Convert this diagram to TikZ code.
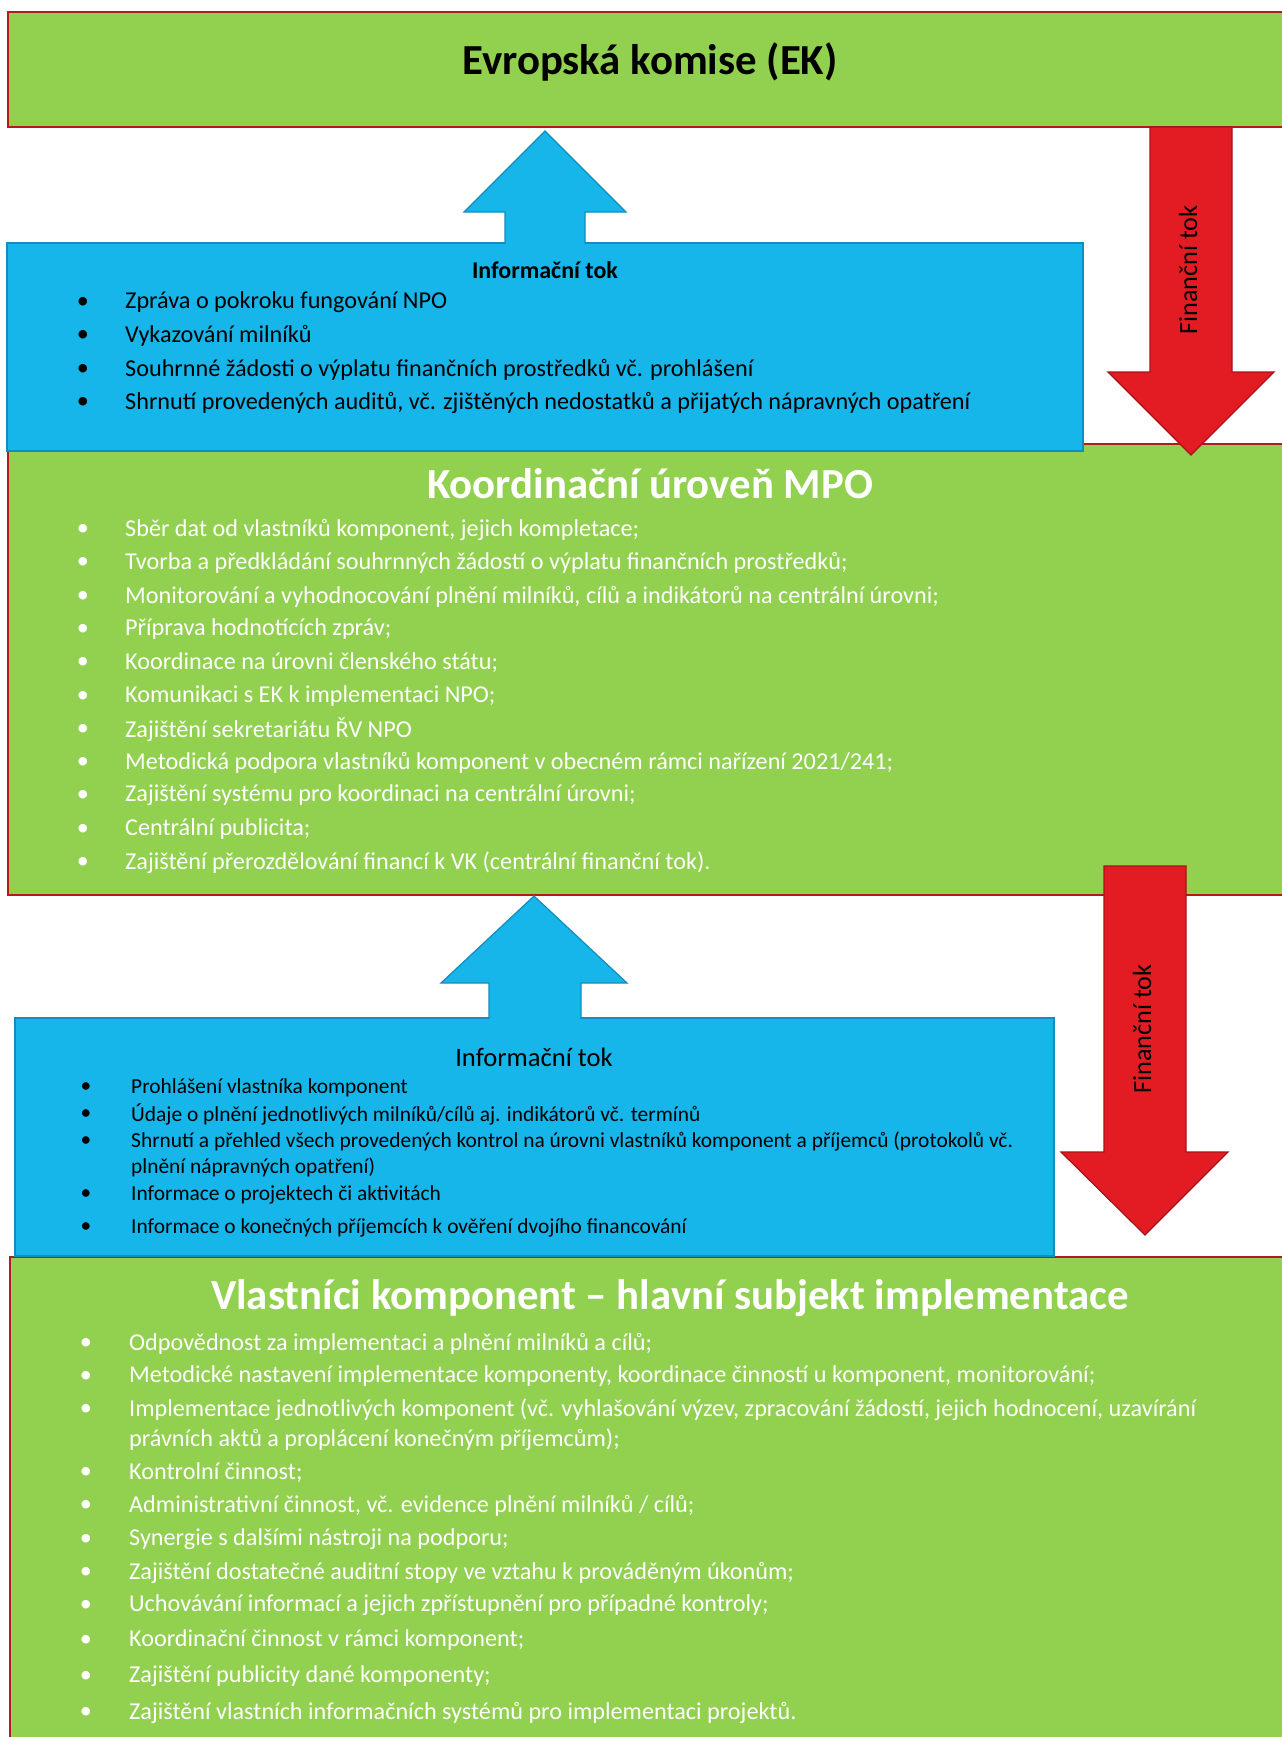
\documentclass[tikz,border=0pt]{standalone}
\usepackage{fontspec}
\setmainfont{Carlito}
\usetikzlibrary{positioning}

\definecolor{boxgreen}{RGB}{146,208,80}
\definecolor{boxedge}{RGB}{180,25,30}
\definecolor{boxblue}{RGB}{22,181,234}
\definecolor{blueedge}{RGB}{20,140,190}
\definecolor{arrred}{RGB}{227,28,36}
\definecolor{arredge}{RGB}{165,20,25}

\begin{document}
\begin{tikzpicture}[x=1pt,y=-1pt,inner sep=0]
  \tikzstyle{greenbox}=[draw=boxedge,fill=boxgreen,line width=1.5pt]
  \tikzstyle{bluebox}=[draw=blueedge,fill=boxblue,line width=1.5pt]
  \tikzstyle{finarrow}=[draw=arredge,fill=arrred,line width=1.2pt,line join=miter]
  \tikzstyle{infoline}=[draw=blueedge,line width=1.2pt]
  \tikzstyle{big}=[font=\fontsize{24.2}{29}\selectfont,yshift=-2.5pt]
  \tikzstyle{small}=[font=\fontsize{21.4}{25}\selectfont,yshift=-1.5pt]
  \tikzstyle{title}=[font=\bfseries\fontsize{42.8}{48}\selectfont]
  \tikzstyle{fin}=[font=\fontsize{26.2}{30}\selectfont,rotate=90]

  \useasboundingbox (0,0) rectangle (1282,1737);
  \fill[white] (0,0) rectangle (1282,1737);

  % boxes
  \path[greenbox] (8,12) rectangle (1300,127);
  \path[greenbox] (8,444) rectangle (1300,895);
  \path[greenbox] (10,1257) rectangle (1300,1760);
  \path[bluebox] (7,243) rectangle (1083,451);
  \path[bluebox] (15,1018) rectangle (1054,1256);

  % information arrows
  \fill[boxblue] (505,245) -- (505,212) -- (464,212) -- (545,131) -- (626,212) -- (585,212) -- (585,245) -- cycle;
  \draw[infoline] (505,244) -- (505,212) -- (464,212) -- (545,131) -- (626,212) -- (585,212) -- (585,244);
  \fill[boxblue] (489,1020) -- (489,983) -- (441,983) -- (534,896) -- (627,983) -- (581,983) -- (581,1020) -- cycle;
  \draw[infoline] (489,1019) -- (489,983) -- (441,983) -- (534,896) -- (627,983) -- (581,983) -- (581,1019);

  % financial arrows
  \path[finarrow] (1150,127) -- (1150,372) -- (1108,372) -- (1191,455) -- (1274,372) -- (1232,372) -- (1232,127) -- cycle;
  \path[finarrow] (1104,866) -- (1104,1152) -- (1061,1152) -- (1145,1235) -- (1228,1152) -- (1186,1152) -- (1186,866) -- cycle;
  \node[fin] (fin1) at (1188,270) {Finanční tok};
  \node[fin] (fin2) at (1142,1029) {Finanční tok};

  % titles
  \node[title] (ek) at (650,62) {Evropská komise (EK)};
  \node[title,text=white] (mpo) at (650,484) {Koordinační úroveň MPO};
  \node[title,text=white] (vk) at (670,1298) {Vlastníci komponent – hlavní subjekt implementace};
  \node[font=\bfseries\fontsize{24}{28}\selectfont] (infoA) at (545,270) {Informační tok};
  \node[font=\fontsize{26.6}{30}\selectfont] (infoB) at (534,1057) {Informační tok};

  % lists
  \foreach \y/\t in {300/{Zpráva o pokroku fungování NPO},
                     333/{Vykazování milníků},
                     367/{Souhrnné žádosti o výplatu finančních prostředků vč. prohlášení},
                     400/{Shrnutí provedených auditů, vč. zjištěných nedostatků a přijatých nápravných opatření}}
  {
    \node[big] at (83,\y) {•};
    \node[big,anchor=west] at (125,\y) {\t};
  }

  \foreach \y/\t in {527/{Sběr dat od vlastníků komponent, jejich kompletace;},
                     560/{Tvorba a předkládání souhrnných žádostí o výplatu finančních prostředků;},
                     594/{Monitorování a vyhodnocování plnění milníků, cílů a indikátorů na centrální úrovni;},
                     627/{Příprava hodnotících zpráv;},
                     660/{Koordinace na úrovni členského státu;},
                     694/{Komunikaci s EK k implementaci NPO;},
                     727/{Zajištění sekretariátu ŘV NPO},
                     760/{Metodická podpora vlastníků komponent v obecném rámci nařízení 2021/241;},
                     793/{Zajištění systému pro koordinaci na centrální úrovni;},
                     827/{Centrální publicita;},
                     860/{Zajištění přerozdělování financí k VK (centrální finanční tok).}}
  {
    \node[big,text=white] at (83,\y) {•};
    \node[big,text=white,anchor=west] at (125,\y) {\t};
  }

  \foreach \y/\t in {1086/{Prohlášení vlastníka komponent},
                     1113/{Údaje o plnění jednotlivých milníků/cílů aj. indikátorů vč. termínů},
                     1140/{Shrnutí a přehled všech provedených kontrol na úrovni vlastníků komponent a příjemců (protokolů vč.},
                     1193/{Informace o projektech či aktivitách},
                     1226/{Informace o konečných příjemcích k ověření dvojího financování}}
  {
    \node[small] at (86,\y) {•};
    \node[small,anchor=west] at (131,\y) {\t};
  }
  \node[small,anchor=west] at (131,1166) {plnění nápravných opatření)};

  \foreach \y/\t in {1341/{Odpovědnost za implementaci a plnění milníků a cílů;},
                     1374/{Metodické nastavení implementace komponenty, koordinace činností u komponent, monitorování;},
                     1407/{Implementace jednotlivých komponent (vč. vyhlašování výzev, zpracování žádostí, jejich hodnocení, uzavírání},
                     1470/{Kontrolní činnost;},
                     1503/{Administrativní činnost, vč. evidence plnění milníků / cílů;},
                     1537/{Synergie s dalšími nástroji na podporu;},
                     1570/{Zajištění dostatečné auditní stopy ve vztahu k prováděným úkonům;},
                     1603/{Uchovávání informací a jejich zpřístupnění pro případné kontroly;},
                     1638/{Koordinační činnost v rámci komponent;},
                     1674/{Zajištění publicity dané komponenty;},
                     1710/{Zajištění vlastních informačních systémů pro implementaci projektů.}}
  {
    \node[big,text=white] at (86,\y) {•};
    \node[big,text=white,anchor=west] at (129,\y) {\t};
  }
  \node[big,text=white,anchor=west] at (129,1437) {právních aktů a proplácení konečným příjemcům);};
\end{tikzpicture}
\end{document}
